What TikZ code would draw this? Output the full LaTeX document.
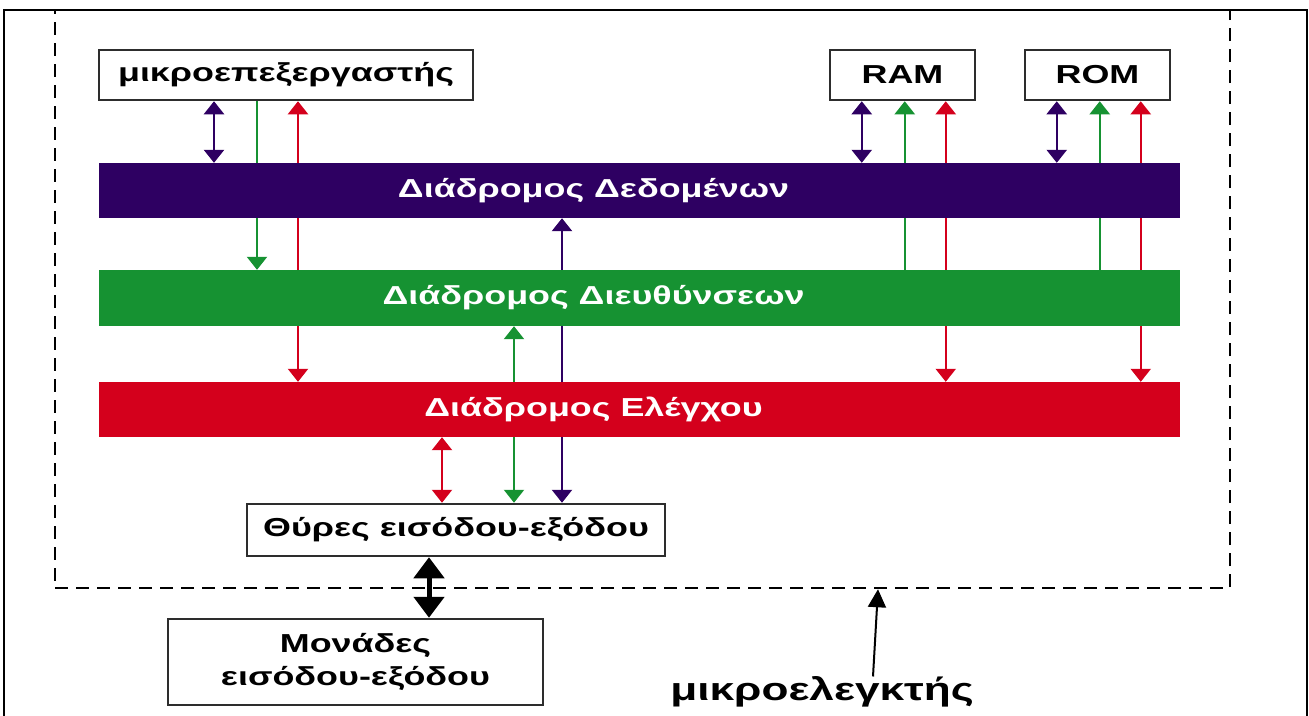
\documentclass[tikz,border=0pt]{standalone}
\usepackage{fontspec}
\setmainfont{Liberation Sans}[FakeStretch=1.38]
\usetikzlibrary{arrows.meta,backgrounds}
\definecolor{busdata}{RGB}{46,0,98}
\definecolor{busaddr}{RGB}{22,146,50}
\definecolor{busctrl}{RGB}{212,0,28}
\definecolor{boxline}{RGB}{45,45,45}

\begin{document}
\begin{tikzpicture}[x=1pt, y=-1pt, >={Triangle[width=20pt,length=13pt]},
    unitbox/.style={draw=boxline, line width=2.5pt, fill=white, inner sep=0pt, align=center, font=\fontsize{26}{33}\selectfont\bfseries},
    busbar/.style={minimum width=1081pt, minimum height=55pt, inner sep=0pt, text=white, font=\fontsize{26}{30}\selectfont\bfseries},
    dataline/.style={draw=busdata, line width=2.5pt},
    addrline/.style={draw=busaddr, line width=2.2pt},
    ctrlline/.style={draw=busctrl, line width=2.2pt}]
  \useasboundingbox (0,0) rectangle (1309,715);
  \draw[line width=2pt] (4,740) -- (4,10) -- (1307,10) -- (1307,740);
  % dashed frame of the microcontroller
  \node[draw, line width=2.5pt, dash pattern=on 13pt off 8pt, minimum width=1175pt, minimum height=578pt, inner sep=0pt] (mcu) at (642.5,299) {};

  \node[unitbox, minimum width=374pt, minimum height=50pt] (cpu) at (286,75) {μικροεπεξεργαστής};
  \node[unitbox, minimum width=145pt, minimum height=50pt] (ram) at (902.5,75) {RAM};
  \node[unitbox, minimum width=145pt, minimum height=50pt] (rom) at (1097.5,75) {ROM};
  \node[busbar, fill=busdata] (dbus) at (639.5,190.5) {Διάδρομος Δεδομένων\rule{92pt}{0pt}};
  \node[busbar, fill=busaddr, minimum height=56pt] (abus) at (639.5,298) {Διάδρομος Διευθύνσεων\rule{92pt}{0pt}};
  \node[busbar, fill=busctrl] (cbus) at (639.5,409.5) {Διάδρομος Ελέγχου\rule{92pt}{0pt}};
  \node[unitbox, minimum width=418pt, minimum height=52pt] (ports) at (456,530) {Θύρες εισόδου-εξόδου};
  \node[unitbox, minimum width=375pt, minimum height=86pt] (iounits) at (355.5,662) {Μονάδες\\εισόδου-εξόδου};
  \node[inner sep=0pt, font=\fontsize{32}{36}\selectfont\bfseries] (mcname) at (822,692) {μικροελεγκτής};

  % bus lines, behind the buses
  \begin{scope}[on background layer]
    \coordinate (cA) at (214,0);
    \coordinate (cB) at (257,0);
    \coordinate (cC) at (298,0);
    \coordinate (cD) at (442,0);
    \coordinate (cE) at (514,0);
    \coordinate (cF) at (562,0);
    \draw[dataline,<->] (cpu.south -| cA) -- (dbus.north -| cA);
    \draw[addrline,->] (cpu.south -| cB) -- (abus.north -| cB);
    \draw[ctrlline,<->] (cpu.south -| cC) -- (cbus.north -| cC);
    \draw[ctrlline,<->] (cbus.south -| cD) -- (ports.north -| cD);
    \draw[addrline,<->] (abus.south -| cE) -- (ports.north -| cE);
    \draw[dataline,<->] (dbus.south -| cF) -- (ports.north -| cF);
    \foreach \mem in {ram,rom} {
      \coordinate (p) at ([xshift=33pt]\mem.south west);
      \coordinate (g) at ([xshift=76pt]\mem.south west);
      \coordinate (r) at ([xshift=117pt]\mem.south west);
      \draw[dataline,<->] (p) -- (dbus.north -| p);
      \draw[addrline,<-] (g) -- (abus.north -| g);
      \draw[ctrlline,<->] (r) -- (cbus.north -| r);
    }
  \end{scope}

  \coordinate (cM) at (429,0);
  \draw[line width=5pt, {Triangle[width=30pt,length=21pt]}-{Triangle[width=30pt,length=21pt]}] (ports.south -| cM) -- (iounits.north -| cM);
  \coordinate (cN) at (873,0);
  \coordinate (cO) at (878,0);
  \draw[line width=2pt, -{Triangle[width=18pt,length=18pt]}] (mcname.north -| cN) -- (mcu.south -| cO);
\end{tikzpicture}
\end{document}
